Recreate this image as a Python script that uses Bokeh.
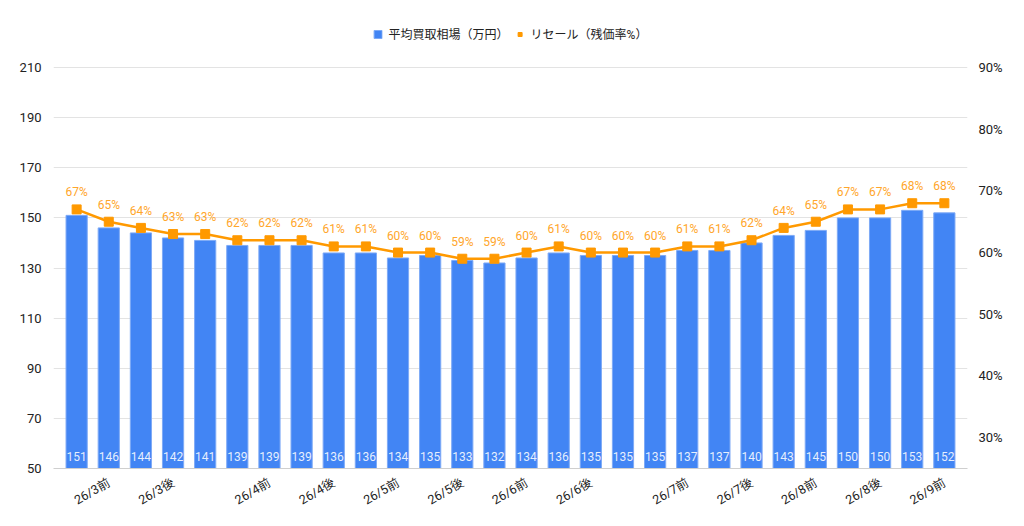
from bokeh.core.properties import value
from bokeh.embed import file_html
from bokeh.models import (ColumnDataSource, FixedTicker, Legend, LegendItem,
                          LinearAxis, PrintfTickFormatter, Range1d)
from bokeh.plotting import figure
from bokeh.resources import INLINE

# --- data ---
periods = ["", "26/3前", "", "26/3後", "", "", "26/4前", "", "26/4後", "",
           "26/5前", "", "26/5後", "", "26/6前", "", "26/6後", "", "",
           "26/7前", "", "26/7後", "", "26/8前", "", "26/8後", "", "26/9前"]
price = [151, 146, 144, 142, 141, 139, 139, 139, 136, 136, 134, 135, 133, 132,
         134, 136, 135, 135, 135, 137, 137, 140, 143, 145, 150, 150, 153, 152]
resale = [67, 65, 64, 63, 63, 62, 62, 62, 61, 61, 60, 60, 59, 59,
          60, 61, 60, 60, 60, 61, 61, 62, 64, 65, 67, 67, 68, 68]
left_ticks = [50, 70, 90, 110, 130, 150, 170, 190, 210]
right_ticks = [30, 40, 50, 60, 70, 80, 90]

FONT = "Roboto, Noto Sans CJK JP"
BLUE = "#4285F4"
ORANGE = "#FF9900"

# the frame reaches up into the legend strip; extra headroom above the top tick
PLOT_H = 401          # px between lowest and highest left tick
HEADROOM = 49         # px of legend strip above the top tick
left_top = left_ticks[-1] + HEADROOM * (left_ticks[-1] - left_ticks[0]) / PLOT_H
right_lo, right_hi = 25, 90
right_top = right_hi + HEADROOM * (right_hi - right_lo) / PLOT_H

idx = list(range(len(price)))
src = ColumnDataSource(data=dict(
    x=idx,
    price=price,
    price_txt=[str(v) for v in price],
    pct=resale,
    pct_txt=[f"{v}%" for v in resale],
))

p = figure(
    width=1016, height=518,
    x_range=Range1d(-0.72, len(price) - 0.28),
    y_range=Range1d(left_ticks[0], left_top),
    output_backend="svg", toolbar_location=None,
    min_border_left=53, min_border_right=49,
    min_border_top=18, min_border_bottom=50,
)
p.outline_line_color = None
p.background_fill_color = "white"
p.extra_y_ranges = {"pct": Range1d(right_lo, right_top)}

bars = p.vbar(x="x", top="price", bottom=left_ticks[0], width=0.66, source=src,
              fill_color=BLUE, line_color="#7eaaf6", line_width=1)
p.line("x", "pct", source=src, y_range_name="pct", line_color=ORANGE, line_width=2.5)
pts = p.scatter("x", "pct", source=src, y_range_name="pct", marker="square",
                size=9, fill_color=ORANGE, line_color=ORANGE)

# data labels
p.text(x="x", y=left_ticks[0], text="price_txt", source=src, y_offset=-12,
       text_align="center", text_baseline="middle", text_color="white",
       text_alpha=0.88, text_font=value(FONT), text_font_size="12px")
p.text(x="x", y="pct", text="pct_txt", source=src, y_range_name="pct", y_offset=-17,
       text_align="center", text_baseline="middle", text_color="#FFA62B",
       text_font=value(FONT), text_font_size="12px")

# axes
p.xaxis.ticker = FixedTicker(ticks=[i for i, s in enumerate(periods) if s])
p.xaxis.major_label_overrides = {i: s for i, s in enumerate(periods) if s}
p.xaxis.major_label_orientation = 0.52
p.xaxis.major_label_standoff = 7
p.xaxis.axis_line_color = "#cfcfcf"
p.xaxis.major_tick_line_color = None
p.xaxis.minor_tick_line_color = None
p.xaxis.major_label_text_font = FONT
p.xaxis.major_label_text_font_size = "12.5px"
p.xaxis.major_label_text_color = "#222222"

p.yaxis.ticker = FixedTicker(ticks=left_ticks)
p.yaxis.axis_line_color = None
p.yaxis.major_tick_line_color = None
p.yaxis.minor_tick_line_color = None
p.yaxis.major_label_text_font = FONT
p.yaxis.major_label_text_font_size = "13px"
p.yaxis.major_label_text_color = "#222222"
p.yaxis.major_label_standoff = 6

ax2 = LinearAxis(y_range_name="pct", ticker=FixedTicker(ticks=right_ticks),
                 formatter=PrintfTickFormatter(format="%d%%"))
ax2.axis_line_color = None
ax2.major_tick_line_color = None
ax2.minor_tick_line_color = None
ax2.major_label_text_font = FONT
ax2.major_label_text_font_size = "13px"
ax2.major_label_text_color = "#222222"
ax2.major_label_standoff = 5
p.add_layout(ax2, "right")

p.xgrid.visible = False
p.ygrid.ticker = FixedTicker(ticks=left_ticks)
p.ygrid.grid_line_color = "#e3e3e3"

legend = Legend(items=[
    LegendItem(label="平均買取相場（万円）", renderers=[bars]),
    LegendItem(label="リセール（残価率%）", renderers=[pts]),
], orientation="horizontal", location="top")
legend.label_text_font = FONT
legend.label_text_font_size = "12px"
legend.label_text_color = "#222222"
legend.glyph_width = 10
legend.glyph_height = 10
legend.label_standoff = 6
legend.spacing = 6
legend.border_line_color = None
legend.background_fill_alpha = 0
legend.padding = 6
legend.margin = 7
p.add_layout(legend)

open("out.html", "w").write(file_html(p, INLINE))
